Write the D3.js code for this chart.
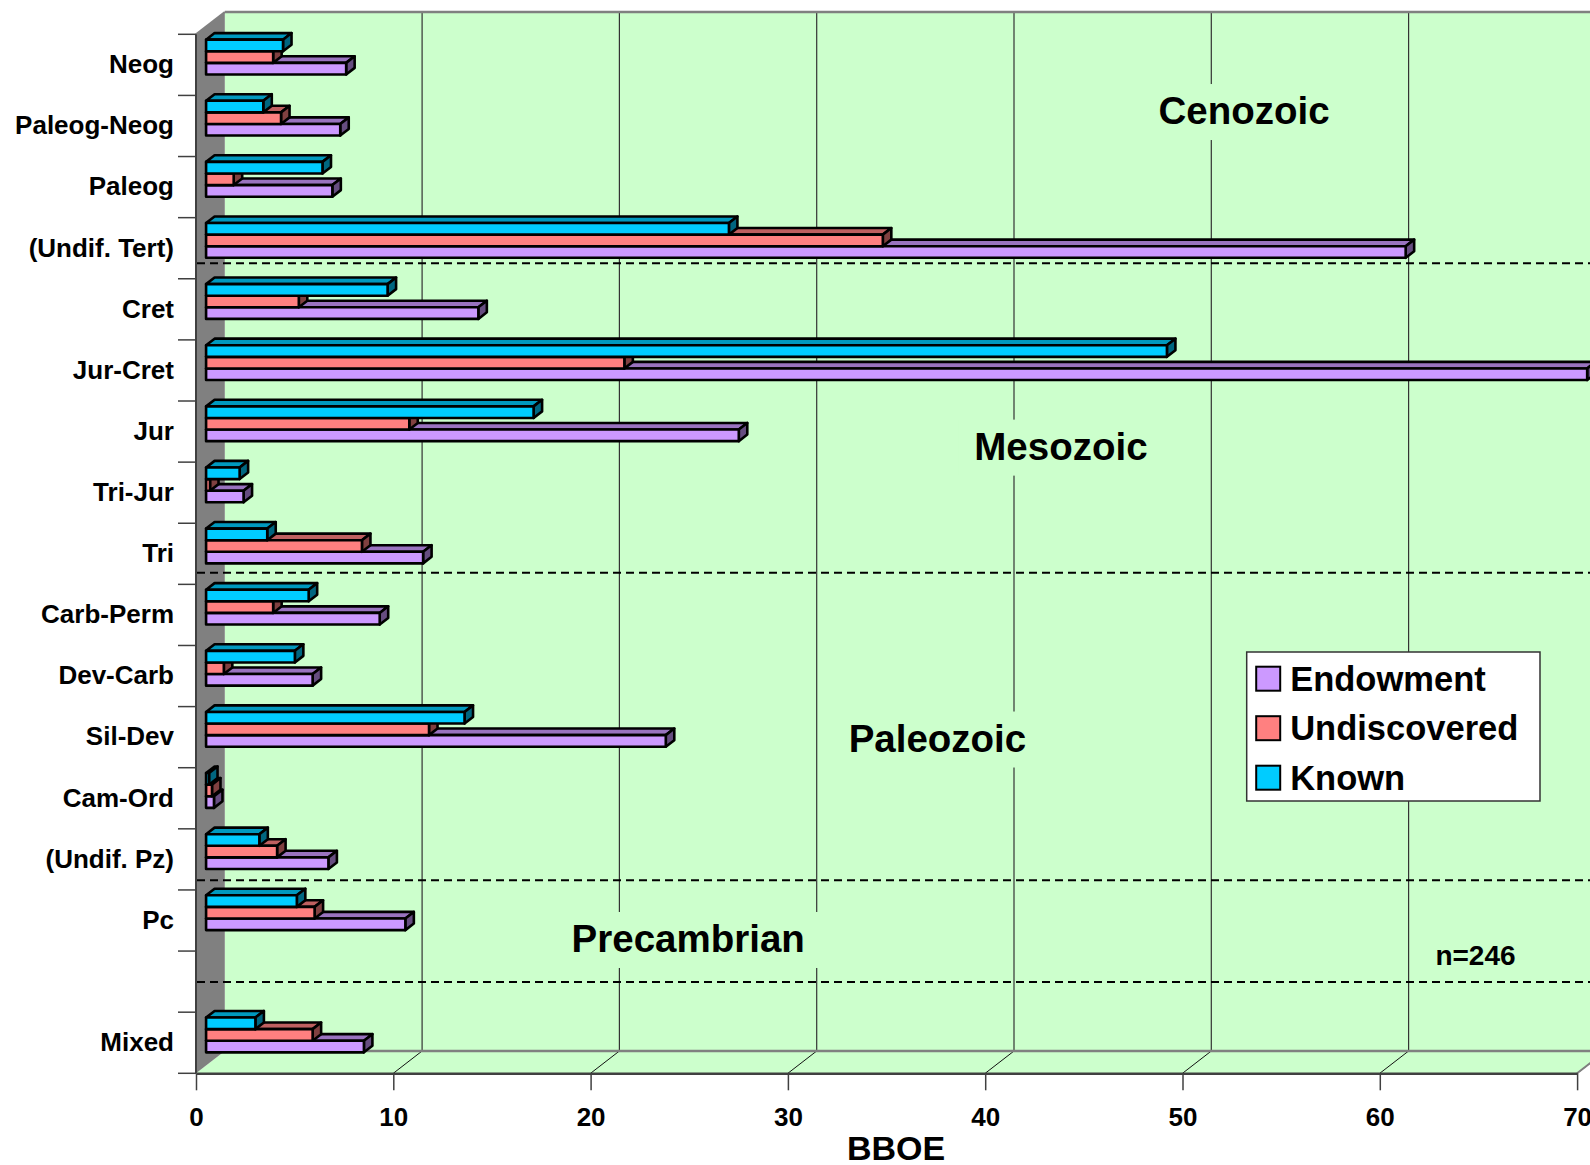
<!DOCTYPE html>
<html>
<head>
<meta charset="utf-8">
<script src="https://cdn.jsdelivr.net/npm/d3@7"></script>
<style>
  html, body { margin: 0; padding: 0; background: #ffffff; }
  svg { display: block; }
  text { font-family: "Liberation Sans", Arial, Helvetica, sans-serif; font-weight: bold; fill: #000; }
</style>
</head>
<body>
<svg id="chart" width="1590" height="1165"></svg>
<script>
// Category slots, top to bottom ("" is the empty spacer row above Mixed)
const categories = ["Neog", "Paleog-Neog", "Paleog", "(Undif. Tert)", "Cret", "Jur-Cret", "Jur",
  "Tri-Jur", "Tri", "Carb-Perm", "Dev-Carb", "Sil-Dev", "Cam-Ord", "(Undif. Pz)", "Pc", "", "Mixed"];

// Values in BBOE per category (null = spacer row)
const known        = [3.9, 2.9, 5.9, 26.5, 9.2, 48.7, 16.6, 1.7, 3.1, 5.2, 4.5, 13.1, 0.15, 2.7, 4.6, null, 2.5];
const undiscovered = [3.4, 3.8, 1.4, 34.3, 4.7, 21.2, 10.3, 0.2, 7.9, 3.4, 0.9, 11.3, 0.3, 3.6, 5.5, null, 5.4];
const endowment    = [7.1, 6.8, 6.4, 60.8, 13.8, 70.0, 27.0, 1.9, 11.0, 8.8, 5.4, 23.3, 0.4, 6.2, 10.1, null, 8.0];

const seriesNames = ["Known", "Undiscovered", "Endowment"];
const xTicks = [0, 10, 20, 30, 40, 50, 60, 70];

// Era annotations: position in value units (back wall) and slot units (baseline)
const eraLabels = ["Cenozoic", "Mesozoic", "Paleozoic", "Precambrian"];
const eraX = [51.66, 42.38, 36.12, 23.49];
const eraSlot = [1.833, 7.324, 12.10, 15.38];
// Era boundaries (slot units)
const eraBreaks = [3.748, 8.812, 13.841, 15.506];

const countLabel = "n=246";
const countX = 63.39, countSlot = 15.59;

const colors = { Known: "#00ccff", Undiscovered: "#ff8080", Endowment: "#cc99ff" };

const svg = d3.select("#chart");

// Depth of the 3D box (offset of the back wall from the front plane)
const DX = 28.8, DY = -22.3;
const TOP = 34.3, BOTTOM = 1073.3;

const x = d3.scaleLinear().domain([0, 70]).range([196, 196 + 70 * 19.73]);
const y = d3.scaleBand().domain(categories).range([TOP, BOTTOM]);
const slotY = d3.scaleLinear().domain([0, categories.length]).range([TOP, BOTTOM]);

const x0 = x(0), x1 = x(70);

// Back wall
svg.append("rect")
  .attr("x", x0 + DX).attr("y", TOP + DY)
  .attr("width", 1700).attr("height", BOTTOM - TOP)
  .attr("fill", "#ccffcc");
// Floor
svg.append("polygon")
  .attr("points", [[x0, BOTTOM], [x0 + DX, BOTTOM + DY], [x1 + DX, BOTTOM + DY], [x1, BOTTOM]].join(" "))
  .attr("fill", "#ccffcc");
// Left wall
svg.append("polygon")
  .attr("points", [[x0, TOP], [x0 + DX, TOP + DY], [x0 + DX, BOTTOM + DY], [x0, BOTTOM]].join(" "))
  .attr("fill", "#808080");

// Back wall gridlines
svg.append("g").selectAll("line").data(xTicks.slice(1)).join("line")
  .attr("x1", d => x(d) + DX).attr("x2", d => x(d) + DX)
  .attr("y1", TOP + DY).attr("y2", BOTTOM + DY)
  .attr("stroke", "#333").attr("stroke-width", 1.2);
// Floor gridlines
svg.append("g").selectAll("line").data(xTicks.slice(1)).join("line")
  .attr("x1", d => x(d)).attr("x2", d => x(d) + DX)
  .attr("y1", BOTTOM).attr("y2", BOTTOM + DY)
  .attr("stroke", "#111").attr("stroke-width", 1);

// Box edges
svg.append("line").attr("x1", x0 + DX).attr("x2", 1700).attr("y1", TOP + DY).attr("y2", TOP + DY)
  .attr("stroke", "#808080").attr("stroke-width", 2.5);
svg.append("line").attr("x1", x0 + DX).attr("x2", x1 + DX).attr("y1", BOTTOM + DY).attr("y2", BOTTOM + DY)
  .attr("stroke", "#808080").attr("stroke-width", 2.5);
svg.append("line").attr("x1", x0).attr("x2", x0 + DX).attr("y1", TOP).attr("y2", TOP + DY)
  .attr("stroke", "#808080").attr("stroke-width", 2);
svg.append("line").attr("x1", x1).attr("x2", x1 + DX).attr("y1", BOTTOM).attr("y2", BOTTOM + DY)
  .attr("stroke", "#808080").attr("stroke-width", 2);

// Era labels on the back wall, each on a wall-coloured backing
const eras = svg.append("g");
eraLabels.forEach((label, i) => {
  const cx = x(eraX[i]) + DX, by = slotY(eraSlot[i]) + DY;
  const t = eras.append("text").attr("x", cx).attr("y", by)
    .attr("text-anchor", "middle").attr("font-size", 38.5).text(label);
  const bb = t.node().getBBox();
  eras.insert("rect", "text")
    .attr("x", bb.x - 16).attr("y", by - 40).attr("width", bb.width + 32).attr("height", 56)
    .attr("fill", "#ccffcc");
});
svg.append("text").attr("x", x(countX) + DX).attr("y", slotY(countSlot) + DY)
  .attr("text-anchor", "middle").attr("font-size", 28).text(countLabel);

// 3D bars
const BAR_D0 = 0.35, BAR_D1 = 0.645;
const fx = BAR_D0 * DX, fy = BAR_D0 * DY;
const bx = (BAR_D1 - BAR_D0) * DX, by = (BAR_D1 - BAR_D0) * DY;
const groupH = 34.8;
const sub = d3.scaleBand().domain(seriesNames).range([0, groupH]);

function shade(c, k) {
  const r = d3.rgb(c);
  return d3.rgb(r.r * k, r.g * k, r.b * k).formatHex();
}

const valuesBy = { Known: known, Undiscovered: undiscovered, Endowment: endowment };
const barData = [];
categories.forEach((cat, i) => {
  if (known[i] === null) return;
  // bottom bar first so the bars above cover its top face
  ["Endowment", "Undiscovered", "Known"].forEach(s => {
    barData.push({ cat, s, v: valuesBy[s][i] });
  });
});

const bars = svg.append("g").attr("stroke", "#000").attr("stroke-width", 2.6).attr("stroke-linejoin", "round");
barData.forEach(d => {
  const yTop = y(d.cat) + (y.bandwidth() - groupH) / 2 + sub(d.s) + fy;
  const yBot = yTop + sub.bandwidth();
  const xa = x(0) + fx, xb = x(d.v) + fx;
  const g = bars.append("g");
  g.append("polygon")
    .attr("points", [[xa, yTop], [xa + bx, yTop + by], [xb + bx, yTop + by], [xb, yTop]].join(" "))
    .attr("fill", shade(colors[d.s], 0.75));
  g.append("polygon")
    .attr("points", [[xb, yTop], [xb + bx, yTop + by], [xb + bx, yBot + by], [xb, yBot]].join(" "))
    .attr("fill", shade(colors[d.s], 0.5));
  g.append("rect")
    .attr("x", xa).attr("y", yTop).attr("width", xb - xa).attr("height", yBot - yTop)
    .attr("fill", colors[d.s]);
});

// Era boundary lines
svg.append("g").selectAll("line").data(eraBreaks).join("line")
  .attr("x1", x0 + 1).attr("x2", 1700)
  .attr("y1", d => slotY(d)).attr("y2", d => slotY(d))
  .attr("stroke", "#000").attr("stroke-width", 2).attr("stroke-dasharray", "8,5");

// Category axis
const yAxis = d3.axisLeft(y).tickSize(0).tickPadding(22);
const gy = svg.append("g").attr("transform", `translate(${x0},0)`).call(yAxis);
gy.select(".domain").remove();
gy.selectAll("text").attr("font-size", 26).attr("font-family", null).attr("fill", "#000");
svg.append("line").attr("x1", x0).attr("x2", x0).attr("y1", TOP).attr("y2", BOTTOM)
  .attr("stroke", "#404040").attr("stroke-width", 2);
svg.append("g").selectAll("line").data(d3.range(categories.length + 1)).join("line")
  .attr("x1", x0 - 18).attr("x2", x0)
  .attr("y1", d => slotY(d)).attr("y2", d => slotY(d))
  .attr("stroke", "#404040").attr("stroke-width", 1.5);

// Value axis
const xAxis = d3.axisBottom(x).tickValues(xTicks).tickSize(17).tickSizeOuter(0).tickPadding(17);
const gx = svg.append("g").attr("transform", `translate(0,${BOTTOM})`).call(xAxis);
gx.select(".domain").attr("stroke", "#404040").attr("stroke-width", 2.5);
gx.selectAll(".tick line").attr("stroke", "#404040").attr("stroke-width", 1.5);
gx.selectAll("text").attr("font-size", 26).attr("font-family", null).attr("fill", "#000");

svg.append("text").attr("x", 896).attr("y", 1160).attr("text-anchor", "middle")
  .attr("font-size", 34).text("BBOE");

// Legend
const legend = svg.append("g").attr("transform", "translate(1246.7,652)");
legend.append("rect").attr("width", 293.3).attr("height", 149)
  .attr("fill", "#fff").attr("stroke", "#333").attr("stroke-width", 1.5);
["Endowment", "Undiscovered", "Known"].forEach((s, i) => {
  const row = legend.append("g").attr("transform", `translate(0,${14.7 + i * 49.5})`);
  row.append("rect").attr("x", 9.5).attr("width", 24).attr("height", 24)
    .attr("fill", colors[s]).attr("stroke", "#000").attr("stroke-width", 2);
  row.append("text").attr("x", 43.5).attr("y", 24).attr("font-size", 34.5).text(s);
});
</script>
</body>
</html>
